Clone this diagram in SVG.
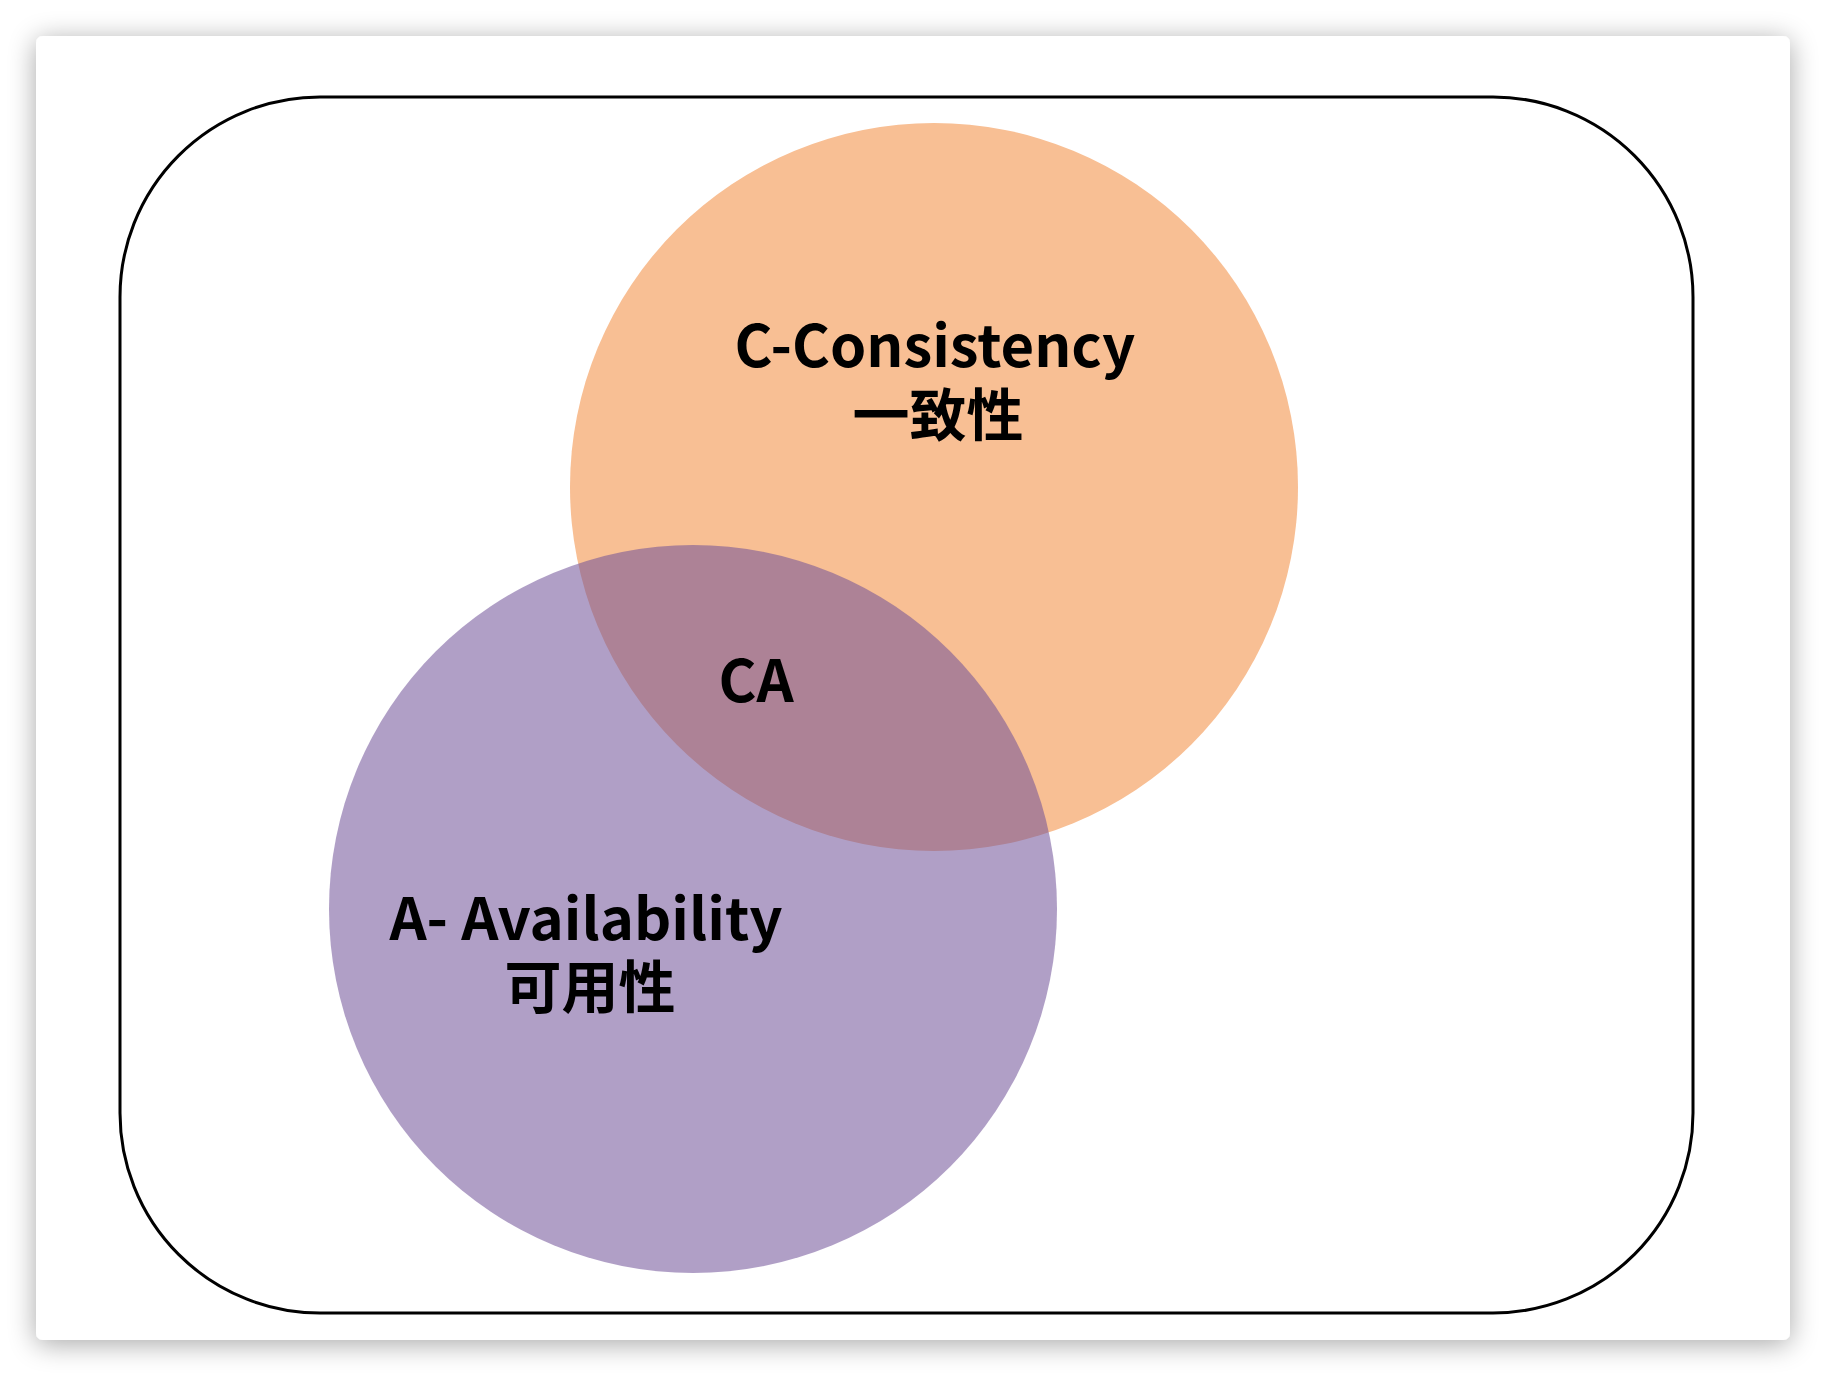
<svg xmlns="http://www.w3.org/2000/svg" width="1826" height="1376" viewBox="0 0 1826 1376">
  <defs>
    <filter id="shadow" x="-10%" y="-10%" width="120%" height="120%">
      <feGaussianBlur in="SourceAlpha" stdDeviation="14"/>
      <feOffset dx="0" dy="4" result="b"/>
      <feComponentTransfer><feFuncA type="linear" slope="0.35"/></feComponentTransfer>
      <feMerge><feMergeNode/><feMergeNode in="SourceGraphic"/></feMerge>
    </filter>
    <style>
      .lbl { font-family: "Noto Sans CJK SC", "Noto Sans", sans-serif; font-weight: bold; fill: #000; text-anchor: middle; }
    </style>
  </defs>
  <rect width="1826" height="1376" fill="#ffffff"/>
  <rect x="36" y="36" width="1754" height="1304" rx="7" fill="#ffffff" filter="url(#shadow)"/>
  <g id="frame">
    <rect x="120" y="97" width="1573" height="1216" rx="200" ry="200" fill="none" stroke="#000" stroke-width="3"/>
  </g>
  <g id="consistency">
    <circle cx="934" cy="487" r="364" fill="#F8BF94"/>
  </g>
  <g id="availability">
    <circle cx="693" cy="909" r="364" fill="#6F5097" fill-opacity="0.55"/>
  </g>
  <g id="labels">
    <text class="lbl" x="935" y="367" font-size="58">C-Consistency</text>
    <text class="lbl" x="938" y="436" font-size="57">一致性</text>
    <text class="lbl" x="756" y="702" font-size="58">CA</text>
    <text class="lbl" x="586" y="940" font-size="58">A- Availability</text>
    <text class="lbl" x="590" y="1008" font-size="57">可用性</text>
  </g>
</svg>
